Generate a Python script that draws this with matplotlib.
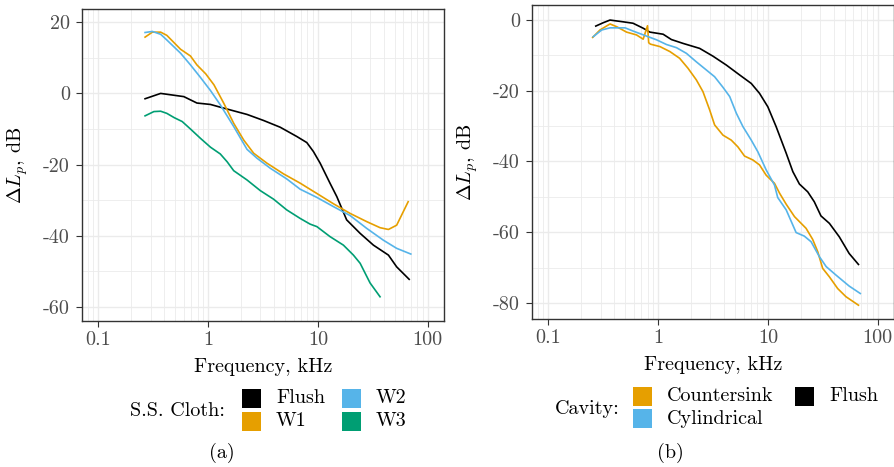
import numpy as np
import matplotlib
matplotlib.use("Agg")
import matplotlib.pyplot as plt
from matplotlib.patches import Rectangle
from matplotlib.ticker import FixedLocator, NullFormatter

plt.rcParams['font.family'] = ['cmr10', 'DejaVu Serif']
plt.rcParams['mathtext.fontset'] = 'cm'
plt.rcParams['axes.unicode_minus'] = False
plt.rcParams['axes.formatter.use_mathtext'] = True

# ---------------- data: panel (a) ----------------
a_flush_f = [0.266, 0.369, 0.60, 0.79, 1.05, 1.49, 2.26, 3.2, 4.54, 6.43, 7.93, 9.1, 10.5, 12.9, 14.9, 18.3, 24.3, 32.1, 44, 52.3, 68]
a_flush_y = [-1.5, 0.0, -0.9, -2.7, -3.1, -4.4, -5.9, -7.6, -9.5, -12.1, -13.8, -16.3, -19.6, -25.2, -29.0, -35.5, -39.3, -42.6, -45.4, -48.7, -52.2]

a_w1_f = [0.266, 0.31, 0.369, 0.42, 0.56, 0.69, 0.79, 0.95, 1.13, 1.39, 1.71, 2.11, 2.6, 3.44, 4.87, 6.9, 9.8, 13.9, 19.7, 27.9, 36.9, 44, 52.3, 66.6]
a_w1_y = [15.8, 17.2, 17.2, 16.3, 12.4, 10.5, 8.0, 5.5, 2.4, -2.8, -8.4, -13.1, -16.8, -19.6, -22.6, -25.2, -28.1, -31.0, -33.7, -36.0, -37.7, -38.2, -37.0, -30.4]

a_w2_f = [0.266, 0.31, 0.369, 0.42, 0.56, 0.69, 0.85, 1.05, 1.29, 1.71, 2.26, 2.79, 3.68, 5.2, 6.9, 9.8, 13.9, 19.7, 27.9, 39.5, 52.3, 70.4]
a_w2_y = [17.1, 17.4, 16.6, 15.0, 11.3, 8.0, 4.5, 0.8, -3.2, -9.3, -15.7, -18.2, -21.0, -24.0, -26.9, -29.2, -31.8, -34.3, -37.9, -41.2, -43.5, -45.1]

a_w3_f = [0.266, 0.32, 0.369, 0.42, 0.49, 0.58, 0.69, 0.85, 1.05, 1.29, 1.49, 1.71, 2.26, 2.99, 3.95, 5.2, 6.9, 8.5, 9.8, 12.9, 17.1, 21.1, 24.3, 29.9, 36.9]
a_w3_y = [-6.3, -5.1, -5.0, -5.6, -6.8, -7.9, -10.0, -12.6, -15.1, -17.0, -19.2, -21.7, -24.3, -27.3, -29.7, -32.7, -35.1, -36.7, -37.4, -40.2, -42.6, -45.4, -47.7, -53.2, -57.1]

# ---------------- data: panel (b) ----------------
b_flush_f = [0.27, 0.316, 0.364, 0.48, 0.59, 0.73, 0.84, 1.11, 1.32, 1.69, 2.39, 3.16, 4.18, 5.53, 7.06, 8.4, 10.0, 11.9, 14.7, 16.9, 19.4, 23.1, 26.5, 30.5, 36.4, 44.8, 55.1, 67]
b_flush_y = [-1.8, -0.85, -0.1, -0.6, -1.0, -2.4, -3.5, -4.1, -5.6, -6.7, -8.1, -10.3, -12.8, -15.6, -18.0, -20.8, -24.6, -30.2, -37.7, -42.9, -46.4, -48.6, -51.4, -55.4, -57.5, -61.3, -66.0, -69.1]

b_csk_f = [0.253, 0.295, 0.364, 0.42, 0.515, 0.635, 0.73, 0.80, 0.82, 0.85, 1.04, 1.28, 1.57, 1.87, 2.23, 2.56, 2.95, 3.27, 3.9, 4.64, 5.33, 6.13, 7.3, 8.4, 9.65, 11.5, 12.8, 14.7, 17.5, 22.3, 25.6, 28.5, 31.6, 36.4, 43.3, 51.5, 67]
b_csk_y = [-5.0, -2.9, -1.2, -2.0, -3.5, -4.3, -5.5, -1.7, -6.5, -6.9, -7.6, -9.0, -10.9, -13.7, -17.0, -20.3, -25.5, -29.7, -32.6, -34.0, -35.9, -38.5, -39.6, -41.0, -43.9, -46.2, -49.0, -52.1, -55.6, -58.9, -62.0, -65.5, -70.2, -72.6, -75.9, -78.2, -80.6]

b_cyl_f = [0.256, 0.306, 0.364, 0.5, 0.59, 0.78, 0.97, 1.19, 1.47, 1.81, 2.23, 2.75, 3.27, 3.9, 4.49, 5.16, 5.93, 7.06, 8.11, 9.65, 11.5, 12.3, 14.7, 18.1, 21.5, 24.8, 29.5, 34.0, 41.8, 55.1, 69.6]
b_cyl_y = [-4.8, -2.9, -2.3, -2.3, -3.2, -4.6, -5.7, -7.0, -7.9, -9.5, -11.9, -14.2, -16.1, -19.1, -21.7, -26.4, -30.2, -34.0, -37.3, -42.4, -46.7, -50.2, -53.7, -60.1, -61.1, -62.7, -66.9, -69.7, -72.1, -75.2, -77.3]

x_ticks = [0.1, 1, 10, 100]
x_tick_labels = ["0.1", "1", "10", "100"]
a_y_ticks = [-60, -40, -20, 0, 20]
a_y_tick_labels = ["-60", "-40", "-20", "0", "20"]
b_y_ticks = [-80, -60, -40, -20, 0]
b_y_tick_labels = ["-80", "-60", "-40", "-20", "0"]

C_BLACK = "#000000"
C_ORANGE = "#E69F00"
C_BLUE = "#56B4E9"
C_GREEN = "#009E73"

W, H = 895, 467
fig = plt.figure(figsize=(W / 100, H / 100), dpi=100)
fs = 14.5


def px_rect(l, t, r, b):
    return [l / W, 1 - b / H, (r - l) / W, (b - t) / H]


def style_ax(ax, yticks, ylabels, ylim, yminor):
    ax.set_xscale("log")
    ax.set_xlim(10 ** -1.15, 10 ** 2.15)
    ax.set_ylim(*ylim)
    ax.xaxis.set_major_locator(FixedLocator(x_ticks))
    ax.set_xticklabels(x_tick_labels)
    minors = [m * 10.0 ** e for e in range(-2, 3) for m in range(2, 10)]
    ax.xaxis.set_minor_locator(FixedLocator(minors))
    ax.xaxis.set_minor_formatter(NullFormatter())
    ax.yaxis.set_major_locator(FixedLocator(yticks))
    ax.set_yticklabels(ylabels)
    ax.yaxis.set_minor_locator(FixedLocator(yminor))
    ax.grid(True, which="major", color="#EBEBEB", lw=1.0, zorder=0)
    ax.grid(True, which="minor", color="#EBEBEB", lw=0.6, zorder=0)
    ax.set_axisbelow(True)
    ax.tick_params(which="major", direction="out", length=4.5, width=0.8,
                   color="#333333", labelcolor="#4D4D4D", labelsize=fs)
    ax.tick_params(axis="y", which="major", pad=4.3)
    ax.tick_params(axis="x", which="major", pad=2.5)
    ax.tick_params(which="minor", length=0)
    for s in ax.spines.values():
        s.set_color("#333333")
        s.set_linewidth(1.0)
    ax.set_xlabel("Frequency, kHz", fontsize=fs, labelpad=7)
    ax.set_ylabel(r"$\Delta L_p$, dB", fontsize=fs, labelpad=9)


ax1 = fig.add_axes(px_rect(82, 9, 444, 321))
style_ax(ax1, a_y_ticks, a_y_tick_labels, (-63.9, 23.7), [-50, -30, -10, 10])
lw = 1.2
ax1.plot(a_flush_f, a_flush_y, color=C_BLACK, lw=lw)
ax1.plot(a_w1_f, a_w1_y, color=C_ORANGE, lw=lw)
ax1.plot(a_w2_f, a_w2_y, color=C_BLUE, lw=lw)
ax1.plot(a_w3_f, a_w3_y, color=C_GREEN, lw=lw)

ax2 = fig.add_axes(px_rect(532, 5, 894, 319))
style_ax(ax2, b_y_ticks, b_y_tick_labels, (-84.5, 4.15), [-70, -50, -30, -10])
ax2.plot(b_flush_f, b_flush_y, color=C_BLACK, lw=lw)
ax2.plot(b_csk_f, b_csk_y, color=C_ORANGE, lw=lw)
ax2.plot(b_cyl_f, b_cyl_y, color=C_BLUE, lw=lw)


def key(x, y, color, label):
    fig.add_artist(Rectangle((x / W, 1 - (y + 19) / H), 19 / W, 19 / H,
                             transform=fig.transFigure, facecolor=color,
                             edgecolor="none"))
    fig.text((x + 34) / W, 1 - (y + 9.5) / H, label, fontsize=fs,
             ha="left", va="center")


fig.text(225 / W, 1 - 411 / H, "S.S. Cloth:", fontsize=fs, ha="right", va="center")
key(242, 389, C_BLACK, "Flush")
key(242, 412, C_ORANGE, "W1")
key(342, 389, C_BLUE, "W2")
key(342, 412, C_GREEN, "W3")

fig.text(620 / W, 1 - 409 / H, "Cavity:", fontsize=fs, ha="right", va="center")
key(633, 387, C_ORANGE, "Countersink")
key(633, 409, C_BLUE, "Cylindrical")
key(795, 387, C_BLACK, "Flush")

fig.text(222 / W, 1 - 453 / H, "(a)", fontsize=fs, ha="center", va="center")
fig.text(670 / W, 1 - 453 / H, "(b)", fontsize=fs, ha="center", va="center")

fig.savefig("out.png", dpi=100)
